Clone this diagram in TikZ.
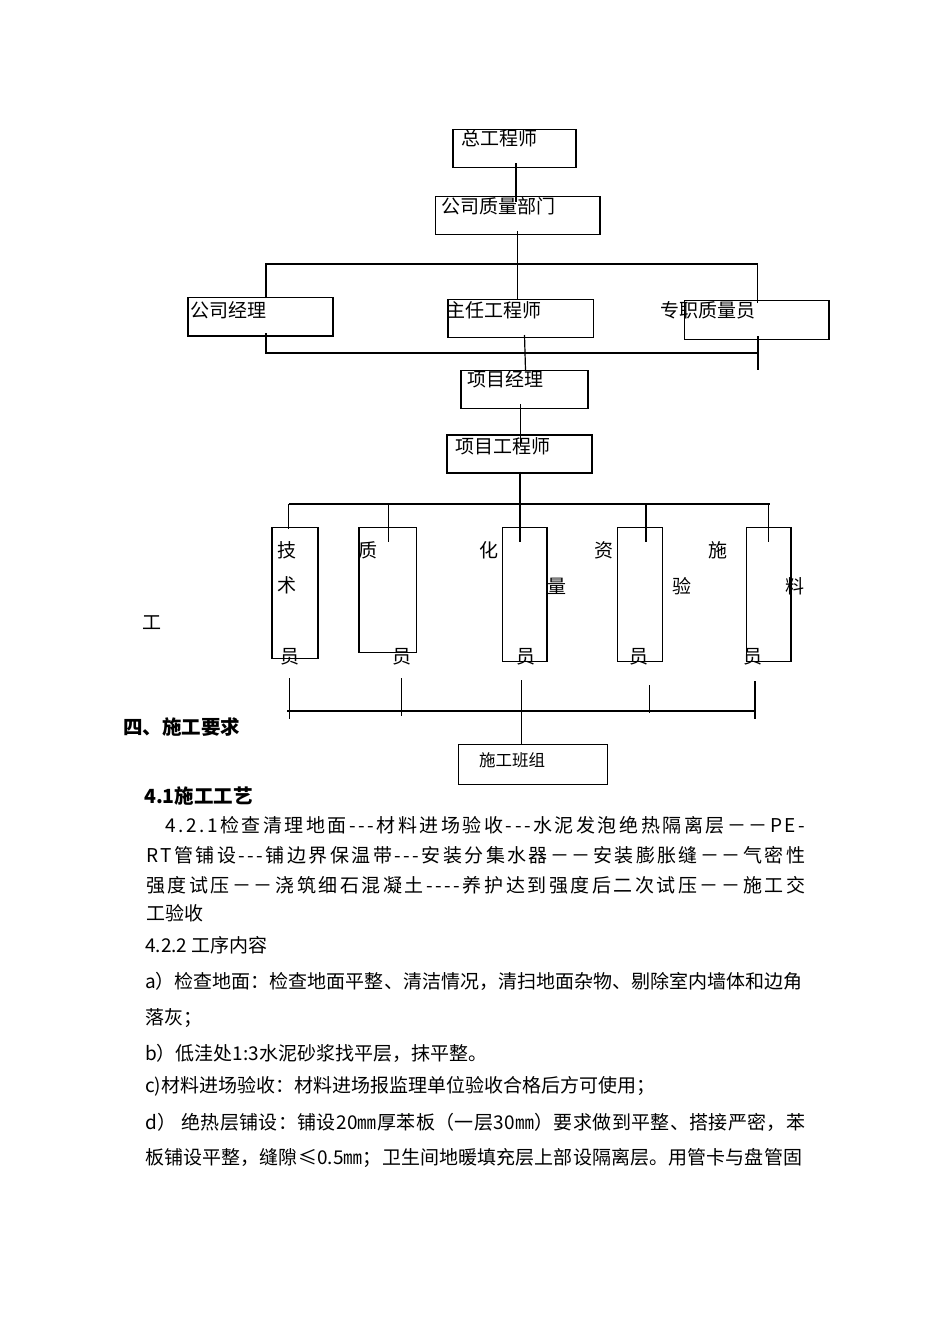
\documentclass[tikz,border=0pt]{standalone}
\usepackage{fontspec}
\setmainfont{Noto Sans CJK SC}
\newcount\cjkc
\cjkc="3000 \loop\ifnum\cjkc<"3040 \XeTeXcharclass\cjkc=5 \advance\cjkc by 1 \repeat
\cjkc="4E00 \loop\ifnum\cjkc<"A000 \XeTeXcharclass\cjkc=5 \advance\cjkc by 1 \repeat
\cjkc="FF00 \loop\ifnum\cjkc<"FFF0 \XeTeXcharclass\cjkc=5 \advance\cjkc by 1 \repeat
\cjkc="30 \loop\ifnum\cjkc<"3A \XeTeXcharclass\cjkc=5 \advance\cjkc by 1 \repeat
\cjkc="41 \loop\ifnum\cjkc<"5B \XeTeXcharclass\cjkc=5 \advance\cjkc by 1 \repeat
\XeTeXcharclass"339C=5
\XeTeXcharclass"2D=5
\XeTeXcharclass"2E=5
\XeTeXinterchartokenstate=1
\XeTeXinterchartoks 5 5 = {\hskip 0pt plus 1fil minus 1pt\relax}
\XeTeXinterchartoks 0 5 = {\hskip 0pt plus 1fil minus 1pt\relax}
\XeTeXinterchartoks 5 0 = {\hskip 0pt plus 1fil minus 1pt\relax}
\newcommand\jline[2]{\hbox to #1{#2}}
\newcommand\hf{\hskip 0pt plus 1fil\relax}
\tikzset{
  box/.style={draw, line width=1.5pt, inner sep=0pt},
  thinbox/.style={draw, line width=1.1pt, inner sep=0pt},
  conn/.style={line width=1.2pt},
  lbl/.style={inner sep=0pt, anchor=base west, font=\fontsize{19}{19}\selectfont},
  smalllbl/.style={inner sep=0pt, anchor=base west, font=\fontsize{16.5}{16.5}\selectfont},
  ch/.style={inner sep=0pt, font=\fontsize{19}{19}\selectfont},
  body/.style={inner sep=0pt, anchor=base west, font=\fontsize{19}{19}\selectfont},
  head/.style={inner sep=0pt, anchor=base west, font=\fontsize{19.5}{19.5}\selectfont\bfseries},
}
\begin{document}
\begin{tikzpicture}[x=1pt,y=-1pt]
\useasboundingbox (0,0) rectangle (950,1344);

% ---------- boxes ----------
\node[box, minimum width=123pt, minimum height=38pt] (zgcs) at (514.5,148.3) {};
\node[box, minimum width=164.4pt, minimum height=37.6pt] (gszl) at (517.8,215.5) {};
\node[box, minimum width=145pt, minimum height=38.5pt] (gsjl) at (260.5,316.8) {};
\node[box, minimum width=145.6pt, minimum height=38.4pt] (zrgcs) at (520.8,318.5) {};
\node[box, minimum width=144.5pt, minimum height=38.6pt] (zzzl) at (756.8,320) {};
\node[box, minimum width=127pt, minimum height=38.4pt] (xmjl) at (524.5,389.5) {};
\node[box, minimum width=145pt, minimum height=38pt] (xmgcs) at (519.5,454) {};
\node[box, minimum width=45.6pt, minimum height=130.6pt] (b1) at (295,593) {};
\node[box, minimum width=57.6pt, minimum height=125pt] (b2) at (387.6,590.2) {};
\node[box, minimum width=44.6pt, minimum height=134pt] (b3) at (524.9,594.7) {};
\node[box, minimum width=45.1pt, minimum height=134pt] (b4) at (639.9,594.7) {};
\node[box, minimum width=44.7pt, minimum height=134pt] (b5) at (768.7,594.7) {};
\node[thinbox, minimum width=149.1pt, minimum height=39.7pt] (sgbz) at (533,764.2) {};

% ---------- box labels ----------
\node[lbl] (t1) at (461,145.5) {总工程师};
\node[lbl] (t2) at (441,213) {公司质量部门};
\node[lbl] (t3) at (190,317) {公司经理};
\node[lbl] (t4) at (446,317) {主任工程师};
\node[lbl] (t5) at (660,317) {专职质量员};
\node[lbl] (t6) at (467,386) {项目经理};
\node[lbl] (t7) at (455,453.7) {项目工程师};
\node[smalllbl] (t8) at (479,766) {施工班组};

% vertical labels of the five boxes
\node[ch] (c11) at (287,550) {技};
\node[ch] (c12) at (287,585) {术};
\node[ch] (c13) at (290,657) {员};
\node[ch] (c21) at (368,550) {质};
\node[ch] (c23) at (402,657) {员};
\node[ch] (c31) at (489,550) {化};
\node[ch] (c32) at (557,586) {量};
\node[ch] (c33) at (526,657) {员};
\node[ch] (c41) at (604,550) {资};
\node[ch] (c42) at (682,586) {验};
\node[ch] (c43) at (639,657) {员};
\node[ch] (c51) at (718,550) {施};
\node[ch] (c52) at (795,586) {料};
\node[ch] (c53) at (753,657) {员};
\node[ch] (gong) at (152,623) {工};

% ---------- connectors ----------
\coordinate (a1) at (516,163);
\coordinate (a2) at (516,202);
\draw[conn] (a1) -- (a2);

\coordinate (q1) at (517.3,231);
\coordinate (q2) at (517.3,299.5);
\draw[conn] (q1) -- (q2);

\coordinate (h1l) at (266,264);
\coordinate (h1r) at (757.6,264);
\coordinate (d1l) at (266,298);
\coordinate (d1r) at (757.6,303);
\draw[conn] (d1l) -- (h1l) -- (h1r) -- (d1r);

\coordinate (h2l) at (265.4,353);
\coordinate (h2r) at (757.6,353);
\draw[conn] (h2l) -- (h2r);
\coordinate (u1) at (266,333);
\coordinate (u1b) at (266,353);
\draw[conn] (u1) -- (u1b);
\coordinate (u2) at (524.5,335);
\coordinate (u2b) at (525.5,370);
\draw[conn] (u2) -- (u2b);
\coordinate (u3) at (758,336);
\coordinate (u3b) at (758,370);
\draw[conn] (u3) -- (u3b);

\coordinate (f1) at (520.6,404);
\coordinate (f2) at (520.6,446);
\draw[conn] (f1) -- (f2);

\coordinate (g1) at (520,471.7);
\coordinate (g2) at (520,542);
\draw[conn] (g1) -- (g2);

\coordinate (h3l) at (288.8,504);
\coordinate (h3r) at (769.6,504);
\draw[conn] (h3l) -- (h3r);
\draw[conn] (h3l) -- (288.8,529);
\coordinate (k2) at (388.8,504);
\draw[conn] (k2) -- (388.8,542);
\coordinate (k4) at (645.9,504);
\draw[conn] (k4) -- (645.9,542);
\coordinate (k5) at (768.7,504);
\draw[conn] (k5) -- (768.7,542);

\coordinate (h4l) at (287.4,711);
\coordinate (h4r) at (755,711);
\draw[conn] (h4l) -- (h4r);
\draw[conn] (289.6,678) -- (289.6,719);
\draw[conn] (401.7,678) -- (401.7,716);
\draw[conn] (521.8,680) -- (521.8,744.3);
\draw[conn] (649.5,685) -- (649.5,713);
\draw[conn] (755,681) -- (755,719);

% ---------- headings and body text ----------
\node[head] (h1) at (123,734) {四、施工要求};
\node[head] (h2) at (144,803.5) {4.1施工工艺};

\node[body] (l1) at (165,832) {\jline{640pt}{4.2.1检查清理地面-\hf-\hf-材料进场验收-\hf-\hf-水泥发泡绝热隔离层－－PE-}};
\node[body] (l2) at (146,862) {\jline{659pt}{RT管铺设-\hf-\hf-铺边界保温带-\hf-\hf-安装分集水器－－安装膨胀缝－－气密性}};
\node[body] (l3) at (146,892) {\jline{659pt}{强度试压－－浇筑细石混凝土-\hf-\hf-\hf-养护达到强度后二次试压－－施工交}};
\node[body] (l4) at (146,920) {工验收};
\node[body] (l5) at (145,952) {4.2.2 工序内容};
\node[body] (l6) at (145,988) {\jline{657pt}{a）检查地面：检查地面平整、清洁情况，清扫地面杂物、剔除室内墙体和边角}};
\node[body] (l7) at (145,1024) {落灰；};
\node[body] (l8) at (145,1060) {b）低洼处1:3水泥砂浆找平层，抹平整。};
\node[body] (l9) at (145,1092) {c)材料进场验收：材料进场报监理单位验收合格后方可使用；};
\node[body] (l10) at (145,1129) {\jline{660pt}{d）\hskip5pt 绝热层铺设：铺设20㎜厚苯板（一层30㎜）要求做到平整、搭接严密，苯}};
\node[body] (l11) at (145,1164) {\jline{657pt}{板铺设平整，缝隙≤0.5㎜；卫生间地暖填充层上部设隔离层。用管卡与盘管固}};
\end{tikzpicture}
\end{document}
